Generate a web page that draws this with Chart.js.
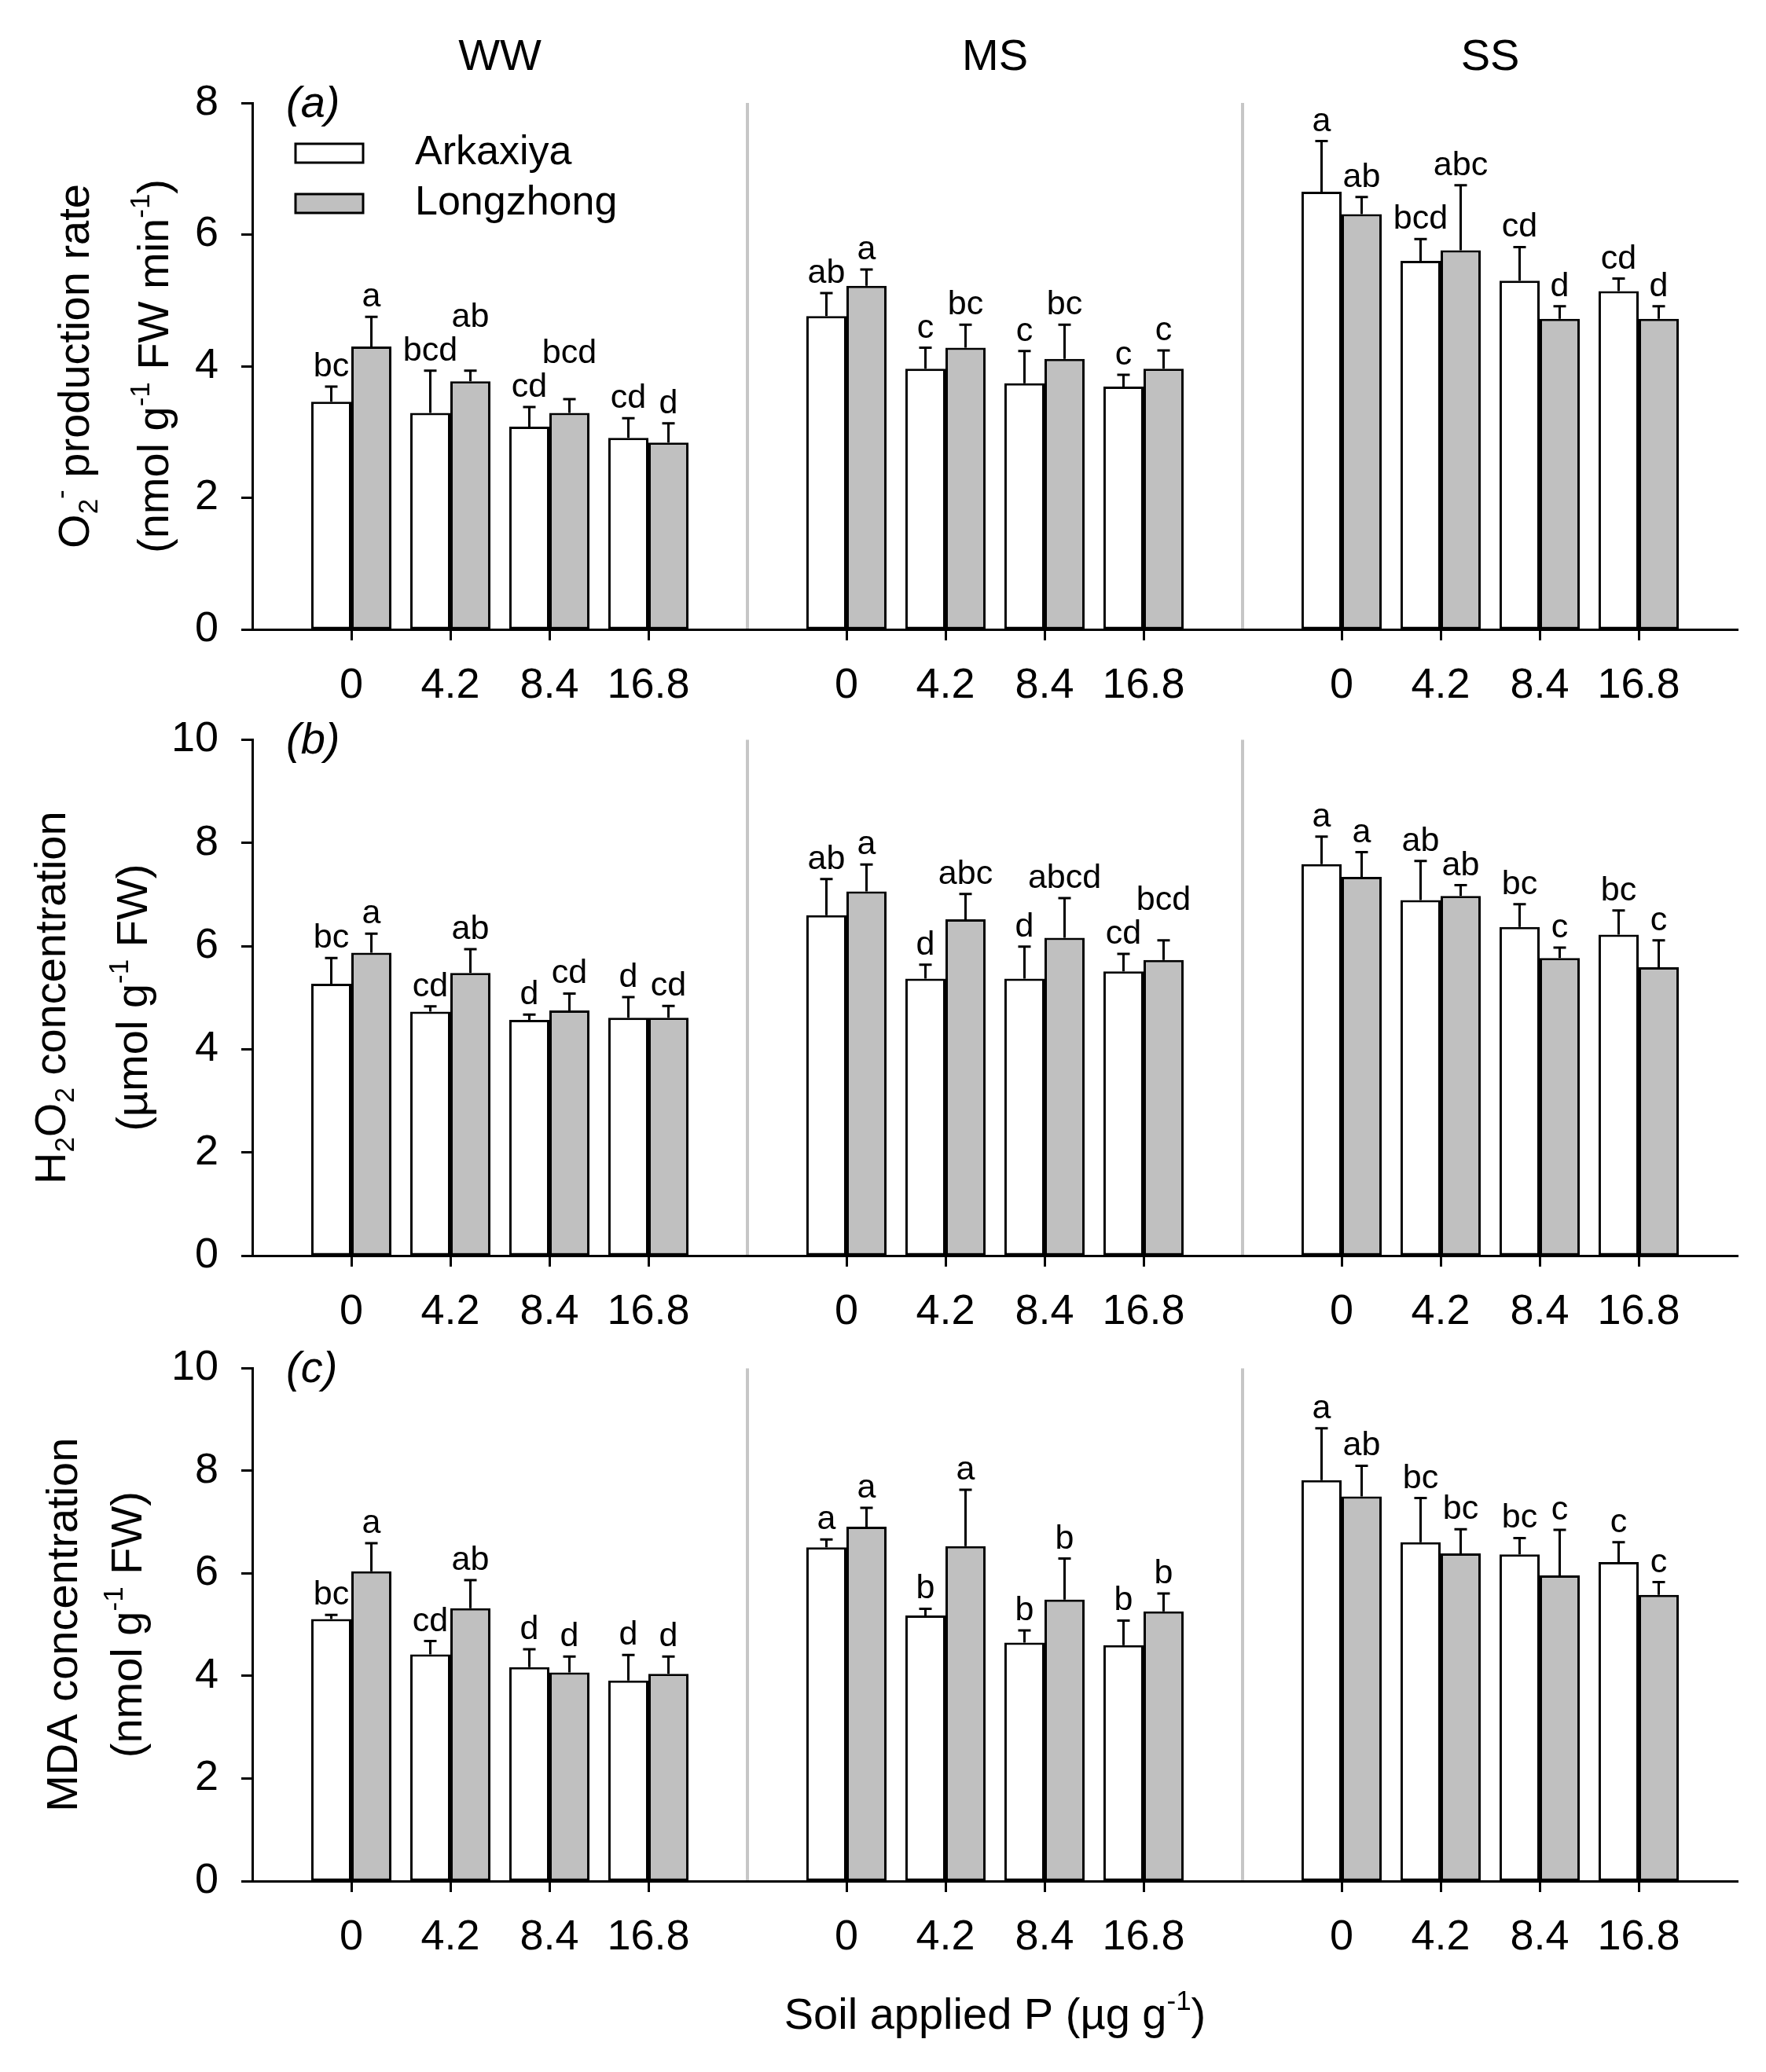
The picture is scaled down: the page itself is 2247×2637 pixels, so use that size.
<!DOCTYPE html>
<html>
<head>
<meta charset="utf-8">
<script src="https://cdn.jsdelivr.net/npm/chart.js@4.4.1/dist/chart.umd.min.js"></script>
<style>
  body { margin: 0; background: #fff; }
  #wrap { position: relative; width: 2247px; height: 2637px; background: #fff; }
  canvas { position: absolute; left: 0; }
</style>
</head>
<body>
<div id="wrap">
  <canvas id="rowA" width="2247" height="940" style="top:0px;width:2247px;height:940px"></canvas>
  <canvas id="rowB" width="2247" height="850" style="top:880px;width:2247px;height:850px"></canvas>
  <canvas id="rowC" width="2247" height="957" style="top:1680px;width:2247px;height:957px"></canvas>
</div>
<script>
// categories
const conditions = ["WW", "MS", "SS"];
const pLevels = ["0", "4.2", "8.4", "16.8"];
const cultivars = ["Arkaxiya", "Longzhong"];

// (a) O2- production rate, WW | MS | SS x 4 P levels
const o2Ark = [3.46, 3.29, 3.08, 2.91, 4.76, 3.96, 3.74, 3.69, 6.65, 5.60, 5.30, 5.14];
const o2ArkSE = [0.23, 0.64, 0.30, 0.30, 0.35, 0.32, 0.49, 0.18, 0.77, 0.33, 0.51, 0.19];
const o2ArkSig = ["bc", "bcd", "cd", "cd", "ab", "c", "c", "c", "a", "bcd", "cd", "cd"];
const o2Long = [4.30, 3.77, 3.29, 2.84, 5.22, 4.28, 4.11, 3.96, 6.31, 5.76, 4.72, 4.72];
const o2LongSE = [0.45, 0.16, 0.21, 0.29, 0.25, 0.35, 0.52, 0.28, 0.26, 0.99, 0.19, 0.19];
const o2LongSig = ["a", "ab", "bcd", "d", "a", "bc", "bc", "c", "ab", "abc", "d", "d"];
const o2Ticks = [0, 2, 4, 6, 8];

// (b) H2O2 concentration
const h2o2Ark = [5.27, 4.73, 4.57, 4.61, 6.60, 5.37, 5.37, 5.51, 7.59, 6.89, 6.37, 6.22];
const h2o2ArkSE = [0.50, 0.10, 0.10, 0.40, 0.70, 0.27, 0.62, 0.34, 0.53, 0.76, 0.44, 0.47];
const h2o2ArkSig = ["bc", "cd", "d", "d", "ab", "d", "d", "cd", "a", "ab", "bc", "bc"];
const h2o2Long = [5.87, 5.48, 4.75, 4.61, 7.06, 6.52, 6.16, 5.73, 7.34, 6.97, 5.77, 5.59];
const h2o2LongSE = [0.37, 0.46, 0.33, 0.23, 0.52, 0.49, 0.77, 0.38, 0.48, 0.21, 0.20, 0.52];
const h2o2LongSig = ["a", "ab", "cd", "cd", "a", "abc", "abcd", "bcd", "a", "ab", "c", "c"];
const h2o2Ticks = [0, 2, 4, 6, 8, 10];

// (c) MDA concentration
const mdaArk = [5.11, 4.42, 4.17, 3.91, 6.51, 5.18, 4.65, 4.60, 7.82, 6.61, 6.37, 6.22];
const mdaArkSE = [0.08, 0.26, 0.35, 0.50, 0.15, 0.13, 0.24, 0.48, 1.01, 0.86, 0.32, 0.39];
const mdaArkSig = ["bc", "cd", "d", "d", "a", "b", "b", "b", "a", "bc", "bc", "c"];
const mdaLong = [6.04, 5.32, 4.07, 4.04, 6.91, 6.53, 5.49, 5.26, 7.50, 6.39, 5.96, 5.58];
const mdaLongSE = [0.55, 0.55, 0.31, 0.34, 0.37, 1.10, 0.80, 0.35, 0.60, 0.47, 0.89, 0.25];
const mdaLongSig = ["a", "ab", "d", "d", "a", "a", "b", "b", "ab", "bc", "c", "c"];
const mdaTicks = [0, 2, 4, 6, 8, 10];

const FONT = '"Liberation Sans", Arial, sans-serif';
Chart.defaults.font.family = FONT;
Chart.defaults.color = "#000";

// each condition gets 5 slots: a boundary slot then the 4 P levels
const slotLabels = [""];
conditions.forEach(() => slotLabels.push(...pLevels, ""));
function pad(arr) {
  const out = [null];
  conditions.forEach((c, k) => out.push(...arr.slice(k * 4, k * 4 + 4), null));
  return out;
}
const isDivider = (i) => i === 5 || i === 10;
const isEdge = (i) => i % 5 === 0;

function richText(ctx, parts, x, y, size, rotate) {
  ctx.save();
  ctx.translate(x, y);
  if (rotate) ctx.rotate(-Math.PI / 2);
  const small = Math.round(size * 0.62);
  let total = 0;
  const widths = parts.map((p) => {
    ctx.font = (p[1] ? small : size) + "px " + FONT;
    const w = ctx.measureText(p[0]).width;
    total += w;
    return w;
  });
  let cx = -total / 2;
  ctx.textAlign = "left";
  ctx.textBaseline = "alphabetic";
  ctx.fillStyle = "#000";
  parts.forEach((p, i) => {
    ctx.font = (p[1] ? small : size) + "px " + FONT;
    const dy = p[1] === 1 ? -size * 0.42 : p[1] === -1 ? size * 0.2 : 0;
    ctx.fillText(p[0], cx, dy);
    cx += widths[i];
  });
  ctx.restore();
}

const errorBars = {
  id: "errorBars",
  afterDatasetsDraw(chart) {
    const { ctx } = chart;
    const yScale = chart.scales.y;
    ctx.save();
    ctx.strokeStyle = "#000";
    ctx.lineWidth = 3;
    ctx.fillStyle = "#000";
    ctx.font = "43px " + FONT;
    ctx.textAlign = "center";
    ctx.textBaseline = "alphabetic";
    const placed = [];
    chart.data.datasets.forEach((ds, d) => {
      const meta = chart.getDatasetMeta(d);
      meta.data.forEach((el, i) => {
        const v = ds.data[i];
        if (v == null) return;
        const top = yScale.getPixelForValue(v + ds.se[i]);
        ctx.beginPath();
        ctx.moveTo(el.x, el.y);
        ctx.lineTo(el.x, top);
        ctx.moveTo(el.x - 8, top);
        ctx.lineTo(el.x + 8, top);
        ctx.stroke();
        const txt = ds.sig[i];
        const w = ctx.measureText(txt).width;
        let base = top - 13;
        const other = placed[i];
        if (other && el.x - w / 2 < other.x2 && el.x + w / 2 > other.x1 && base > other.top - 12) {
          base = other.top - 12;
        }
        ctx.fillText(txt, el.x, base);
        placed[i] = { x1: el.x - w / 2, x2: el.x + w / 2, top: base - 31 };
      });
    });
    ctx.restore();
  }
};

function makeDecor(row) {
  return {
    id: "decor",
    afterDraw(chart) {
      const { ctx, chartArea: ca } = chart;
      const x = chart.scales.x;
      ctx.save();
      ctx.fillStyle = "#000";
      ctx.font = "italic 56px " + FONT;
      ctx.textAlign = "left";
      ctx.textBaseline = "middle";
      ctx.fillText(row.panel, ca.left + 43, ca.top + 2);
      const midY = (ca.top + ca.bottom) / 2;
      row.yTitle.forEach((parts, k) => richText(ctx, parts, row.titleX[k], midY, 56, true));
      const centre = (k) => (x.getPixelForValue(k * 5) + x.getPixelForValue(k * 5 + 5)) / 2;
      if (row.header) {
        ctx.font = "56px " + FONT;
        ctx.textAlign = "center";
        ctx.textBaseline = "alphabetic";
        conditions.forEach((c, k) => ctx.fillText(c, centre(k), 89));
      }
      if (row.legend) {
        const bx = ca.left + 55, by = ca.top + 52;
        [["#ffffff", cultivars[0]], ["#c0c0c0", cultivars[1]]].forEach(([col, name], k) => {
          const yy = by + k * 64;
          ctx.fillStyle = col;
          ctx.fillRect(bx, yy, 86, 24);
          ctx.strokeStyle = "#000";
          ctx.lineWidth = 3;
          ctx.strokeRect(bx, yy, 86, 24);
          ctx.fillStyle = "#000";
          ctx.font = "52px " + FONT;
          ctx.textAlign = "left";
          ctx.textBaseline = "middle";
          ctx.fillText(name, bx + 152, yy + 12);
        });
      }
      if (row.xTitle) {
        richText(ctx, row.xTitle, centre(1), row.xTitleY, 56, false);
      }
      ctx.restore();
    }
  };
}

const rows = [
  {
    id: "rowA", panel: "(a)", padTop: 131, axisH: 139, ticks: o2Ticks,
    ark: o2Ark, arkSE: o2ArkSE, arkSig: o2ArkSig, lng: o2Long, lngSE: o2LongSE, lngSig: o2LongSig,
    yTitle: [
      [["O", 0], ["2", -1], ["-", 1], [" production rate", 0]],
      [["(nmol g", 0], ["-1", 1], [" FW min", 0], ["-1", 1], [")", 0]]
    ],
    titleX: [113, 214], header: true, legend: true
  },
  {
    id: "rowB", panel: "(b)", padTop: 47, axisH: 132, ticks: h2o2Ticks,
    ark: h2o2Ark, arkSE: h2o2ArkSE, arkSig: h2o2ArkSig, lng: h2o2Long, lngSE: h2o2LongSE, lngSig: h2o2LongSig,
    yTitle: [
      [["H", 0], ["2", -1], ["O", 0], ["2", -1], [" concentration", 0]],
      [["(\u00b5mol g", 0], ["-1", 1], [" FW)", 0]]
    ],
    titleX: [83, 187]
  },
  {
    id: "rowC", panel: "(c)", padTop: 42, axisH: 243, ticks: mdaTicks,
    ark: mdaArk, arkSE: mdaArkSE, arkSig: mdaArkSig, lng: mdaLong, lngSE: mdaLongSE, lngSig: mdaLongSig,
    yTitle: [
      [["MDA concentration", 0]],
      [["(nmol g", 0], ["-1", 1], [" FW)", 0]]
    ],
    titleX: [98, 180],
    xTitle: [["Soil applied P (\u00b5g g", 0], ["-1", 1], [")", 0]], xTitleY: 902
  }
];

rows.forEach((row) => {
  new Chart(document.getElementById(row.id), {
    type: "bar",
    data: {
      labels: slotLabels,
      datasets: [
        {
          label: cultivars[0], data: pad(row.ark), se: pad(row.arkSE), sig: pad(row.arkSig),
          backgroundColor: "#ffffff", borderColor: "#000", borderWidth: 3, borderSkipped: false
        },
        {
          label: cultivars[1], data: pad(row.lng), se: pad(row.lngSE), sig: pad(row.lngSig),
          backgroundColor: "#c0c0c0", borderColor: "#000", borderWidth: 3, borderSkipped: false
        }
      ]
    },
    options: {
      responsive: false,
      animation: false,
      devicePixelRatio: 1,
      categoryPercentage: 0.81,
      barPercentage: 1,
      layout: { padding: { top: row.padTop, right: 36, left: 0, bottom: 0 } },
      plugins: { legend: { display: false }, tooltip: { enabled: false } },
      scales: {
        x: {
          type: "category",
          offset: false,
          afterFit: (s) => { s.height = row.axisH; },
          ticks: { autoSkip: false, maxRotation: 0, minRotation: 0, font: { size: 54 }, color: "#000", padding: 26 },
          grid: {
            offset: false,
            color: (c) => (isDivider(c.index) ? "#c6c6c6" : "rgba(0,0,0,0)"),
            lineWidth: (c) => (isDivider(c.index) ? 4 : 1),
            drawTicks: true,
            tickLength: 14,
            tickWidth: 3,
            tickColor: (c) => (isEdge(c.index) ? "rgba(0,0,0,0)" : "#000")
          },
          border: { display: true, color: "#000", width: 3 }
        },
        y: {
          min: row.ticks[0],
          max: row.ticks[row.ticks.length - 1],
          afterBuildTicks: (s) => { s.ticks = row.ticks.map((v) => ({ value: v })); },
          afterFit: (s) => { s.width = 321; },
          ticks: { font: { size: 54 }, color: "#000", padding: 29 },
          grid: { drawOnChartArea: false, drawTicks: true, tickLength: 14, tickWidth: 3, tickColor: "#000" },
          border: { display: true, color: "#000", width: 3 }
        }
      }
    },
    plugins: [errorBars, makeDecor(row)]
  });
});
</script>
</body>
</html>
